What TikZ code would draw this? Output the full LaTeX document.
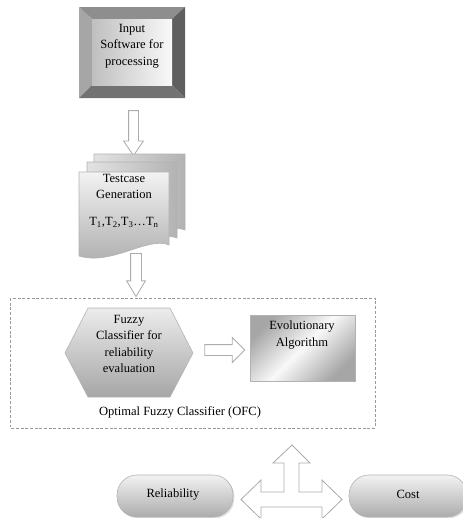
\documentclass[tikz,border=0pt]{standalone}
\usepackage{fontspec}
\setmainfont{Liberation Serif}
\usetikzlibrary{shapes.arrows,shadows}
\definecolor{bevtop}{HTML}{8E8E8E}
\definecolor{bevleft}{HTML}{A6A6A6}
\definecolor{bevright}{HTML}{5F5F5F}
\definecolor{bevbottom}{HTML}{727272}
\begin{document}
\begin{tikzpicture}[
    x=0.03cm,y=-0.03cm,
    every node/.style={font=\fontsize{10.7}{14}\selectfont, align=center, inner sep=0pt},
    frame/.style={draw=gray!60, line width=0.5pt},
    doc/.style={frame, left color=gray!22, right color=gray!60},
    fatarrow/.style={single arrow, draw=gray!65, fill=white, line width=0.7pt, single arrow head indent=0pt, inner xsep=0pt},
    hollow/.style={draw=gray!65, fill=white, line width=0.7pt, line join=miter},
    group/.style={draw=gray!80, line width=0.8pt, dash pattern=on 2.5pt off 1.5pt},
    shadowed/.style={drop shadow={opacity=0.25, shadow xshift=1.2pt, shadow yshift=-1.2pt}},
    pill/.style={frame, shadowed, rounded corners=0.6cm, top color=gray!10, bottom color=gray!65}
]
    \useasboundingbox (0,0) rectangle (462,518);

    \fill[bevtop] (79,7) -- (185,7) -- (172,19) -- (92,19) -- cycle;
    \fill[bevleft] (79,7) -- (92,19) -- (92,85) -- (79,98) -- cycle;
    \fill[bevright] (185,7) -- (185,98) -- (172,85) -- (172,19) -- cycle;
    \fill[bevbottom] (79,98) -- (92,85) -- (172,85) -- (185,98) -- cycle;
    \shade[left color=gray!50, right color=gray!5] (92,19) rectangle (172,85);
    \node (input) at (132,46) {Input\\Software for\\processing};

    \node[fatarrow, rotate=-90, minimum height=45*0.03cm, minimum width=19*0.03cm, inner ysep=4.5*0.03cm,
        single arrow head extend=5*0.03cm, single arrow tip angle=68] (arrInput) at (133.5,129.5) {};

    \draw[doc] (94,154) -- (185,154) -- (185,230) .. controls (165,222) and (125,248) .. (94,238) -- cycle;
    \draw[doc] (87,162) -- (177,162) -- (177,238) .. controls (157,230) and (118,256) .. (87,246) -- cycle;
    \draw[frame, top color=gray!10, bottom color=gray!65] (79,172) -- (169,172) -- (169,245)
        .. controls (148,236) and (112,266) .. (79,256) -- cycle;
    \node (tests) at (124,201) {Testcase\\Generation\\[9pt]T\textsubscript{1},T\textsubscript{2},T\textsubscript{3}\ldots T\textsubscript{n}};

    \node[fatarrow, rotate=-90, minimum height=43*0.03cm, minimum width=18*0.03cm, inner ysep=5*0.03cm,
        single arrow head extend=4*0.03cm, single arrow tip angle=62] (arrTests) at (136,270.5) {};

    \draw[group] (10,298) rectangle (375,428);

    \draw[frame, top color=gray!15, bottom color=gray!70] (88,308) -- (170,308) -- (193,353)
        -- (170,397) -- (88,397) -- (65,353) -- cycle;
    \node (fuzzy) at (129,344) {Fuzzy\\Classifier for\\reliability\\evaluation};

    \node[fatarrow, minimum height=40*0.03cm, minimum width=24*0.03cm, inner ysep=5*0.03cm,
        single arrow head extend=7*0.03cm, single arrow tip angle=90] (arrFuzzy) at (222,350) {};

    \draw[frame, shadowed, top color=gray!70, bottom color=gray!70, middle color=gray!5, shading angle=45] (250,315) rectangle (355,381);
    \node (evol) at (302,335) {Evolutionary\\Algorithm};

    \node (ofc) at (180,412) {Optimal Fuzzy Classifier (OFC)};

    \draw[hollow] (292,445) -- (310,463) -- (299,463) -- (299,492) -- (322,492) -- (322,480)
        -- (342,499.5) -- (322,519) -- (322,507) -- (261,507) -- (261,519) -- (241,499.5)
        -- (261,480) -- (261,492) -- (284,492) -- (284,463) -- (273,463) -- cycle;

    \draw[pill] (117,475) rectangle (233,517);
    \node (reliab) at (173,494) {Reliability};
    \draw[pill] (349,475) rectangle (467,517);
    \node (cost) at (408,494) {Cost};
\end{tikzpicture}
\end{document}
